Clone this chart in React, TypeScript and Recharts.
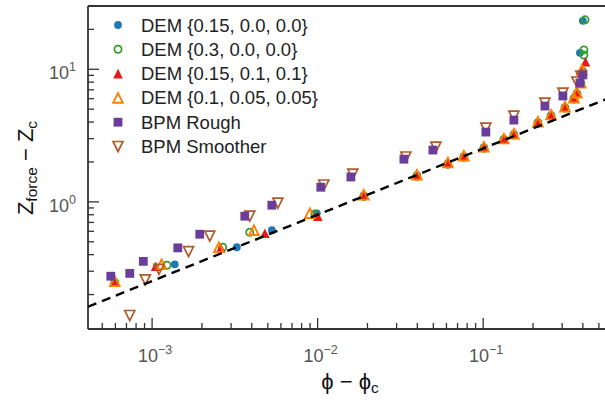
import { ScatterChart, Scatter, XAxis, YAxis, ReferenceLine } from 'recharts';

// values (phi - phi_c, Z_force - Z_c)
const demA = [
  { x: 1.37e-3, y: 0.338 }, { x: 3.25e-3, y: 0.455 }, { x: 5.29e-3, y: 0.611 }, { x: 9.89e-3, y: 0.82 },
  { x: 0.019, y: 1.12 }, { x: 0.0398, y: 1.59 }, { x: 0.0612, y: 1.96 }, { x: 0.0764, y: 2.21 },
  { x: 0.101, y: 2.59 }, { x: 0.1334, y: 2.98 }, { x: 0.1533, y: 3.25 }, { x: 0.214, y: 4.0 },
  { x: 0.257, y: 4.52 }, { x: 0.312, y: 5.19 }, { x: 0.353, y: 6.07 }, { x: 0.368, y: 6.62 },
  { x: 0.389, y: 7.9 }, { x: 0.384, y: 13.3 }, { x: 0.4, y: 23.2 },
];
const demB = [
  { x: 5.95e-4, y: 0.247 }, { x: 1.23e-3, y: 0.333 }, { x: 2.67e-3, y: 0.455 }, { x: 3.89e-3, y: 0.59 },
  { x: 9.62e-3, y: 0.81 }, { x: 0.019, y: 1.1 }, { x: 0.0398, y: 1.56 }, { x: 0.0612, y: 1.92 },
  { x: 0.0764, y: 2.17 }, { x: 0.101, y: 2.54 }, { x: 0.1334, y: 2.94 }, { x: 0.1533, y: 3.19 },
  { x: 0.214, y: 3.94 }, { x: 0.257, y: 4.44 }, { x: 0.312, y: 5.1 }, { x: 0.353, y: 5.95 },
  { x: 0.368, y: 6.5 }, { x: 0.389, y: 7.8 }, { x: 0.4, y: 9.6 }, { x: 0.406, y: 12.8 },
  { x: 0.406, y: 14.0 }, { x: 0.412, y: 23.6 },
];
const demC = [
  { x: 5.95e-4, y: 0.25 }, { x: 1.05e-3, y: 0.327 }, { x: 2.6e-3, y: 0.45 }, { x: 4.8e-3, y: 0.58 },
  { x: 0.01003, y: 0.78 }, { x: 0.019, y: 1.13 }, { x: 0.0398, y: 1.6 }, { x: 0.0612, y: 1.97 },
  { x: 0.0764, y: 2.22 }, { x: 0.101, y: 2.6 }, { x: 0.1334, y: 3.0 }, { x: 0.1533, y: 3.27 },
  { x: 0.214, y: 4.02 }, { x: 0.257, y: 4.55 }, { x: 0.312, y: 5.22 }, { x: 0.353, y: 6.1 },
  { x: 0.368, y: 6.65 }, { x: 0.389, y: 7.9 }, { x: 0.395, y: 9.5 }, { x: 0.415, y: 11.4 },
];
const demD = [
  { x: 5.95e-4, y: 0.252 }, { x: 1.14e-3, y: 0.338 }, { x: 2.53e-3, y: 0.455 }, { x: 4.12e-3, y: 0.611 },
  { x: 8.97e-3, y: 0.822 }, { x: 0.019, y: 1.13 }, { x: 0.0398, y: 1.6 }, { x: 0.0612, y: 1.98 },
  { x: 0.0764, y: 2.23 }, { x: 0.101, y: 2.6 }, { x: 0.1334, y: 3.0 }, { x: 0.1533, y: 3.27 },
  { x: 0.214, y: 4.02 }, { x: 0.257, y: 4.55 }, { x: 0.312, y: 5.22 }, { x: 0.353, y: 6.1 },
  { x: 0.368, y: 6.65 }, { x: 0.389, y: 7.9 }, { x: 0.395, y: 9.9 },
];
const bpmRough = [
  { x: 5.63e-4, y: 0.275 }, { x: 7.33e-4, y: 0.289 }, { x: 8.85e-4, y: 0.356 }, { x: 1.43e-3, y: 0.45 },
  { x: 1.94e-3, y: 0.57 }, { x: 3.63e-3, y: 0.78 }, { x: 5.29e-3, y: 0.944 }, { x: 0.01045, y: 1.29 },
  { x: 0.01588, y: 1.54 }, { x: 0.0332, y: 2.1 }, { x: 0.0497, y: 2.46 }, { x: 0.1038, y: 3.36 },
  { x: 0.1533, y: 4.14 }, { x: 0.236, y: 5.28 }, { x: 0.303, y: 6.29 }, { x: 0.384, y: 7.88 },
  { x: 0.4, y: 9.06 },
];
const bpmSmoother = [
  { x: 7.33e-4, y: 0.139 }, { x: 9.1e-4, y: 0.258 }, { x: 1.1e-3, y: 0.31 }, { x: 1.66e-3, y: 0.422 },
  { x: 2.23e-3, y: 0.551 }, { x: 3.89e-3, y: 0.78 }, { x: 5.75e-3, y: 0.978 }, { x: 0.0109, y: 1.34 },
  { x: 0.0163, y: 1.62 }, { x: 0.0341, y: 2.18 }, { x: 0.0518, y: 2.59 }, { x: 0.1038, y: 3.6 },
  { x: 0.1533, y: 4.44 }, { x: 0.236, y: 5.56 }, { x: 0.303, y: 6.62 }, { x: 0.368, y: 8.02 },
  { x: 0.389, y: 8.9 },
];
const fitLine = [{ x: 4.1e-4, y: 0.162 }, { x: 0.6, y: 6.2 }];

const legendLabels = [
  'DEM {0.15, 0.0, 0.0}',
  'DEM {0.3, 0.0, 0.0}',
  'DEM {0.15, 0.1, 0.1}',
  'DEM {0.1, 0.05, 0.05}',
  'BPM Rough',
  'BPM Smoother',
];

const xMajor = [1e-3, 1e-2, 1e-1];
const xMajorExp = ['\u22123', '\u22122', '\u22121'];
const xMinor = [
  5e-4, 6e-4, 7e-4, 8e-4, 9e-4,
  2e-3, 3e-3, 4e-3, 5e-3, 6e-3, 7e-3, 8e-3, 9e-3,
  2e-2, 3e-2, 4e-2, 5e-2, 6e-2, 7e-2, 8e-2, 9e-2,
  2e-1, 3e-1, 4e-1, 5e-1,
];
const yMajor = [1, 10];
const yMajorExp = ['0', '1'];
const yMinor = [0.2, 0.3, 0.4, 0.5, 0.6, 0.7, 0.8, 0.9, 2, 3, 4, 5, 6, 7, 8, 9, 20];

const FONT = "'Liberation Sans', Arial, Helvetica, sans-serif";
const AXIS = '#333333';
const TICK_TEXT = '#555555';

const colors = {
  blue: '#1f78b4',
  green: '#33a02c',
  red: '#e31a1c',
  orange: '#ff7f00',
  purple: '#6a3d9a',
  brown: '#b15928',
};

type Kind = 'dot' | 'ring' | 'tri' | 'triOpen' | 'square' | 'triDown';

function Marker({ kind, cx, cy, color }: { kind: Kind; cx: number; cy: number; color: string }) {
  if (cx == null || cy == null) return <g />;
  switch (kind) {
    case 'dot':
      return <circle cx={cx} cy={cy} r={3.9} fill={color} />;
    case 'ring':
      return <circle cx={cx} cy={cy} r={3.6} fill="none" stroke={color} strokeWidth={1.8} />;
    case 'tri':
      return <polygon points={`${cx},${cy - 4.8} ${cx - 4.8},${cy + 4.8} ${cx + 4.8},${cy + 4.8}`} fill={color} />;
    case 'triOpen':
      return (
        <polygon
          points={`${cx},${cy - 4.8} ${cx - 4.8},${cy + 4.8} ${cx + 4.8},${cy + 4.8}`}
          fill="none"
          stroke={color}
          strokeWidth={1.9}
        />
      );
    case 'square':
      return <rect x={cx - 4.4} y={cy - 4.4} width={8.8} height={8.8} fill={color} />;
    case 'triDown':
      return (
        <polygon
          points={`${cx - 5},${cy - 5} ${cx + 5},${cy - 5} ${cx},${cy + 5}`}
          fill="none"
          stroke={color}
          strokeWidth={1.7}
        />
      );
  }
  return <g />;
}

const shapeOf = (kind: Kind, color: string) => (props: any) => (
  <Marker kind={kind} cx={props.cx} cy={props.cy} color={color} />
);

const legendItems: { kind: Kind; color: string }[] = [
  { kind: 'dot', color: colors.blue },
  { kind: 'ring', color: colors.green },
  { kind: 'tri', color: colors.red },
  { kind: 'triOpen', color: colors.orange },
  { kind: 'square', color: colors.purple },
  { kind: 'triDown', color: colors.brown },
];

const XTick = (props: any) => {
  const { x, y, payload } = props;
  const i = xMajor.indexOf(payload.value);
  const major = i >= 0;
  return (
    <g>
      <line x1={x} x2={x} y1={y} y2={y - (major ? 11 : 6)} stroke={AXIS} strokeWidth={1.3} />
      {major && (
        <text x={x + 3} y={y + 33} textAnchor="middle" fill={TICK_TEXT} fontFamily={FONT} fontSize={18}>
          10
          <tspan dy={-8} fontSize={12.5}>{xMajorExp[i]}</tspan>
        </text>
      )}
    </g>
  );
};

const YTick = (props: any) => {
  const { x, y, payload } = props;
  const i = yMajor.indexOf(payload.value);
  const major = i >= 0;
  return (
    <g>
      <line x1={x} x2={x + (major ? 11 : 6)} y1={y} y2={y} stroke={AXIS} strokeWidth={1.3} />
      {major && (
        <text x={x - 12} y={y + 10} textAnchor="end" fill={TICK_TEXT} fontFamily={FONT} fontSize={18}>
          10
          <tspan dy={-8} fontSize={12.5}>{yMajorExp[i]}</tspan>
        </text>
      )}
    </g>
  );
};

export default function App() {
  return (
    <div style={{ position: 'relative', width: 605, height: 401, overflow: 'hidden', background: '#fff' }}>
      <style>{'body{margin:0;overflow:hidden}'}</style>
      <ScatterChart width={615} height={401} margin={{ top: 6, right: 3, bottom: 0, left: 0 }}>
        <XAxis
          type="number"
          dataKey="x"
          scale="log"
          domain={[4.1e-4, 0.6]}
          allowDataOverflow
          ticks={[...xMajor, ...xMinor]}
          interval={0}
          tick={<XTick />}
          tickLine={false}
          tickSize={0}
          tickMargin={0}
          height={72}
          axisLine={{ stroke: AXIS, strokeWidth: 1.8 }}
        />
        <YAxis
          type="number"
          dataKey="y"
          scale="log"
          domain={[0.11, 30]}
          allowDataOverflow
          ticks={[...yMajor, ...yMinor]}
          interval={0}
          tick={<YTick />}
          tickLine={false}
          tickSize={0}
          tickMargin={0}
          width={88}
          axisLine={{ stroke: AXIS, strokeWidth: 1.8 }}
        />
        <ReferenceLine y={30} stroke={AXIS} strokeWidth={1.8} />
        <Scatter data={demA} shape={shapeOf('dot', colors.blue)} isAnimationActive={false} />
        <Scatter data={demB} shape={shapeOf('ring', colors.green)} isAnimationActive={false} />
        <Scatter data={demC} shape={shapeOf('tri', colors.red)} isAnimationActive={false} />
        <Scatter data={demD} shape={shapeOf('triOpen', colors.orange)} isAnimationActive={false} />
        <Scatter data={bpmSmoother} shape={shapeOf('triDown', colors.brown)} isAnimationActive={false} />
        <Scatter data={bpmRough} shape={shapeOf('square', colors.purple)} isAnimationActive={false} />
        <Scatter
          data={fitLine}
          line={{ stroke: '#000', strokeWidth: 2.4, strokeDasharray: '9 6' }}
          shape={() => <g />}
          isAnimationActive={false}
        />
      </ScatterChart>
      <svg
        width={605}
        height={401}
        style={{ position: 'absolute', left: 0, top: 0, pointerEvents: 'none' }}
      >
        {legendLabels.map((label, i) => {
          const cy = 25 + i * 24.3;
          return (
            <g key={label}>
              <Marker kind={legendItems[i].kind} cx={118} cy={cy} color={legendItems[i].color} />
              <text x={141} y={cy + 6.5} fontFamily={FONT} fontSize={18.5} fill="#222">
                {label}
              </text>
            </g>
          );
        })}
        <text
          transform="rotate(-90, 33, 168)"
          x={33}
          y={168}
          textAnchor="middle"
          fontFamily={FONT}
          fontSize={22}
          fill="#111"
        >
          Z
          <tspan fontSize={15.5} dy={4}>force</tspan>
          <tspan dy={-4}>{' \u2212 Z'}</tspan>
          <tspan fontSize={15.5} dy={4}>c</tspan>
        </text>
        <text x={350} y={389} textAnchor="middle" fontFamily={FONT} fontSize={22} fill="#111">
          {'\u03d5 \u2212 \u03d5'}
          <tspan fontSize={15.5} dy={4}>c</tspan>
        </text>
      </svg>
    </div>
  );
}
